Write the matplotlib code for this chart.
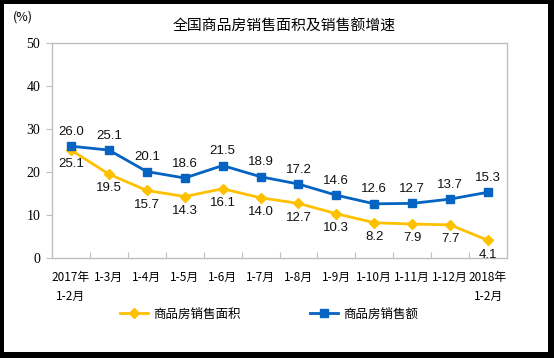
import matplotlib
matplotlib.use("Agg")
import matplotlib.pyplot as plt
from matplotlib.patches import Rectangle
from matplotlib.lines import Line2D

plt.rcParams['font.family'] = ['Noto Sans CJK SC', 'DejaVu Sans']

# data
categories = ['2017年\n1-2月', '1-3月', '1-4月', '1-5月', '1-6月', '1-7月', '1-8月',
              '1-9月', '1-10月', '1-11月', '1-12月', '2018年\n1-2月']
area_growth = [25.1, 19.5, 15.7, 14.3, 16.1, 14.0, 12.7, 10.3, 8.2, 7.9, 7.7, 4.1]
sales_growth = [26.0, 25.1, 20.1, 18.6, 21.5, 18.9, 17.2, 14.6, 12.6, 12.7, 13.7, 15.3]
area_name = '商品房销售面积'
sales_name = '商品房销售额'
title = '全国商品房销售面积及销售额增速'

yellow = '#FFC000'
blue = '#0563C1'

W, H = 554, 358
fig = plt.figure(figsize=(W / 100, H / 100), dpi=100, facecolor='black')
# white canvas inside black frame
fig.patches.append(Rectangle((4 / W, 6 / H), (548 - 4) / W, (354 - 6) / H,
                             transform=fig.transFigure, facecolor='white',
                             edgecolor='none', zorder=-5))

ax = fig.add_axes([52 / W, 1 - 258 / H, (507 - 52) / W, (258 - 43) / H])
ax.set_facecolor('white')

x = list(range(len(categories)))
ax.plot(x, area_growth, color=yellow, lw=2, marker='D', ms=5, zorder=3)
ax.plot(x, sales_growth, color=blue, lw=2, marker='s', ms=5.5, zorder=4)

num_font = dict(family=['Liberation Sans', 'DejaVu Sans'], fontsize=9.5, color='#111111')
for i, v in enumerate(sales_growth):
    ax.annotate(f'{v:.1f}', (i, v), xytext=(0, 6), textcoords='offset points',
                ha='center', va='bottom', **num_font)
for i, v in enumerate(area_growth):
    ax.annotate(f'{v:.1f}', (i, v), xytext=(0, -6), textcoords='offset points',
                ha='center', va='top', **num_font)

ax.set_xlim(-0.5, len(categories) - 0.5)
ax.set_ylim(0, 50)
ax.set_yticks(range(0, 51, 10))
ax.set_yticklabels([str(t) for t in range(0, 51, 10)],
                   family=['Liberation Serif', 'DejaVu Serif'], fontsize=10)
ax.tick_params(axis='y', length=4, color='#bfbfbf', pad=4.5)

# x ticks between categories, drawn inward
ax.set_xticks([i + 0.5 for i in range(len(categories) - 1)], minor=False)
ax.set_xticklabels([])
ax.tick_params(axis='x', direction='in', length=4, color='#bfbfbf')
ax.set_xticks(x, minor=True)
ax.set_xticklabels(categories, minor=True, fontsize=8.5, linespacing=1.6, va='top')
ax.tick_params(axis='x', which='minor', length=0, pad=9)

for s in ax.spines.values():
    s.set_color('#bfbfbf')
    s.set_linewidth(1)

fig.text(284 / W, 1 - 27 / H, title, ha='center', va='center', fontsize=10.7)
fig.text(23 / W, 1 - 17 / H, '(%)', ha='center', va='center', fontsize=9)

# legend
handles = [Line2D([], [], color=yellow, lw=2, marker='D', ms=5),
           Line2D([], [], color=blue, lw=2, marker='s', ms=5.5)]
fig.legend(handles, [area_name, sales_name], loc='center', ncol=2,
           bbox_to_anchor=(269 / W, 1 - 314 / H), frameon=False,
           fontsize=9, columnspacing=5.6, handlelength=2.2, handletextpad=0.4)

fig.savefig('out.png', dpi=100, facecolor='black')
